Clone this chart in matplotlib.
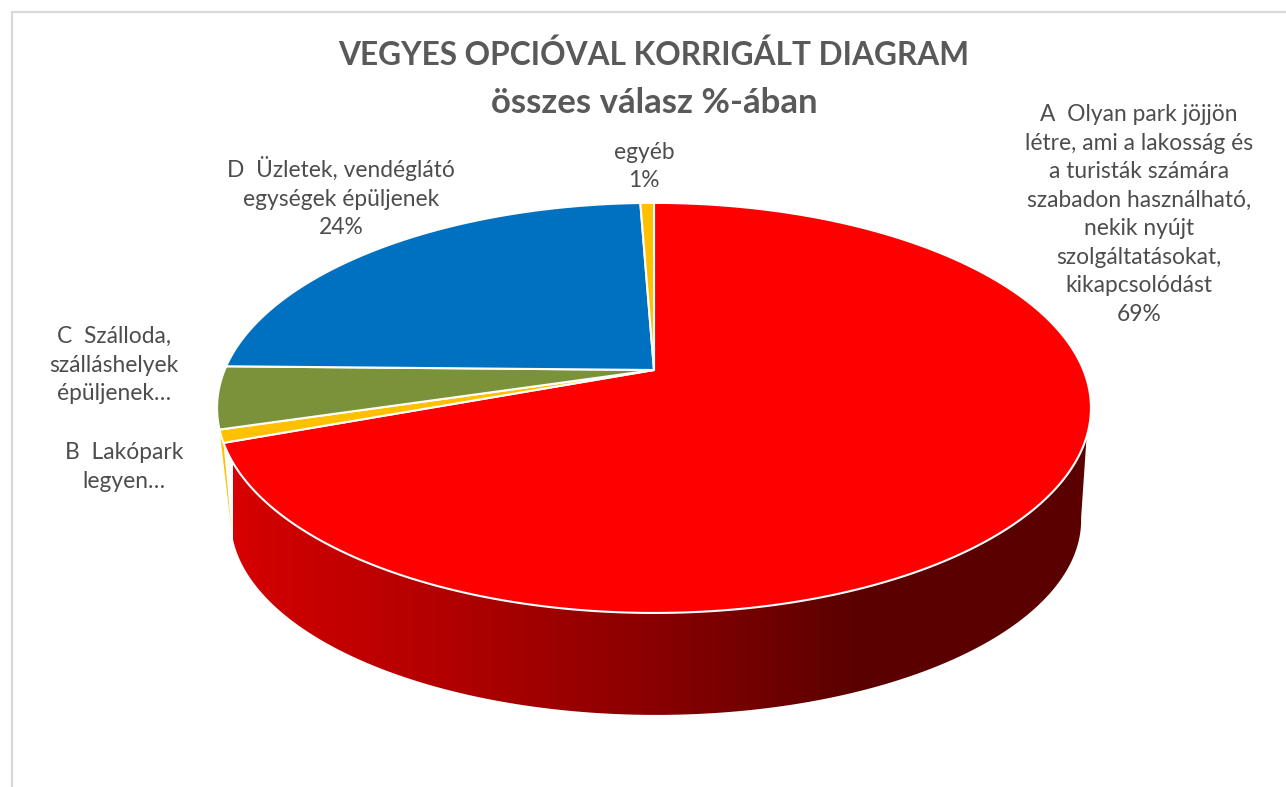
import numpy as np
import matplotlib
matplotlib.use('Agg')
import matplotlib.pyplot as plt
from matplotlib.colors import LinearSegmentedColormap
from matplotlib.patches import Polygon

plt.rcParams['font.family'] = ['Lato', 'DejaVu Sans']

categories = ['A', 'B', 'C', 'D', 'egyéb']
values = [69.4, 1.0, 4.9, 24.1, 0.6]
colors = ['#ff0000', '#ffc000', '#7a933b', '#0070c0', '#ffc000']

title_1 = 'VEGYES OPCIÓVAL KORRIGÁLT DIAGRAM'
title_2 = 'összes válasz %-ában'
labels = [
    'A  Olyan park jöjjön\nlétre, ami a lakosság és\na turisták számára\nszabadon használható,\nnekik nyújt\nszolgáltatásokat,\nkikapcsolódást\n69%',
    'B  Lakópark\nlegyen…',
    'C  Szálloda,\nszálláshelyek\népüljenek…',
    'D  Üzletek, vendéglátó\negységek épüljenek\n24%',
    'egyéb\n1%',
]
label_pos = [(1139, 214.5), (124, 467), (114, 365), (341, 197), (644, 166.5)]

# pie geometry, pixels
cx, apex_y = 654, 370
persp = 0.185
ky = 198
kx = 429.4
low_cx, low_y, low_sx, low_sy = 656, 520, 0.973, 0.951
mid_y = 408


def rim(theta):
    u, v = np.sin(theta), np.cos(theta)
    d = 1 + persp * v
    return cx + kx * u / d, apex_y - ky * v / d


def lower(theta):
    x, y = rim(theta)
    return low_cx + (x - cx) * low_sx, low_y + (y - mid_y) * low_sy


fig = plt.figure(figsize=(12.86, 7.87), dpi=100)
ax = fig.add_axes([0, 0, 1, 1])
ax.set_xlim(0, 1286)
ax.set_ylim(787, 0)
ax.axis('off')

# chart frame
ax.plot([12, 12, 1286], [787, 12, 12], color='#d9d9d9', lw=1.6)

edges = np.radians(np.cumsum([0] + values) * 3.6)
side_left = np.radians(257)
side_right_low = np.radians(100)
side_right_top = np.radians(108.5)

# side of B
bx, by = rim(np.array([edges[2], edges[1]]))
lx, ly = lower(side_left)
ax.fill(list(bx) + [lx], list(by) + [ly], color=colors[1], lw=0, zorder=2)

# side of A with gradient
tx, ty = rim(np.linspace(edges[1], side_right_top, 200))
lx2, ly2 = lower(np.linspace(side_right_low, side_left, 300))
side_x = np.concatenate([lx2, tx])
side_y = np.concatenate([ly2, ty])
side = Polygon(np.column_stack([side_x, side_y]), closed=True, transform=ax.transData, fc='none', ec='none')
ax.add_patch(side)
stops = [(0, '#d80000'), (0.06, '#cc0000'), (0.26, '#b00000'), (0.5, '#880000'), (0.735, '#5a0000'), (1, '#5a0000')]
cmap = LinearSegmentedColormap.from_list('side', stops)
grad = ax.imshow(np.linspace(0, 1, 512).reshape(1, -1), cmap=cmap, extent=(233, 1088, 720, 400), aspect='auto', zorder=3)
grad.set_clip_path(side)
ax.set_xlim(0, 1286)
ax.set_ylim(787, 0)

# top face
for i in range(len(values)):
    t = np.linspace(edges[i], edges[i + 1], 300)
    x, y = rim(t)
    ax.fill(np.r_[cx, x], np.r_[apex_y, y], facecolor=colors[i], edgecolor='white', lw=1.5, joinstyle='round', zorder=4)

ax.text(654, 55, title_1, ha='center', va='center', fontsize=22.8, fontweight='bold', color='#595959')
ax.text(654, 103, title_2, ha='center', va='center', fontsize=25, fontweight='bold', color='#595959')
for lab, pos in zip(labels, label_pos):
    ax.text(pos[0], pos[1], lab, ha='center', va='center', fontsize=16.4, color='#4d4d4d', linespacing=1.44)

fig.savefig('out.png', dpi=100)
